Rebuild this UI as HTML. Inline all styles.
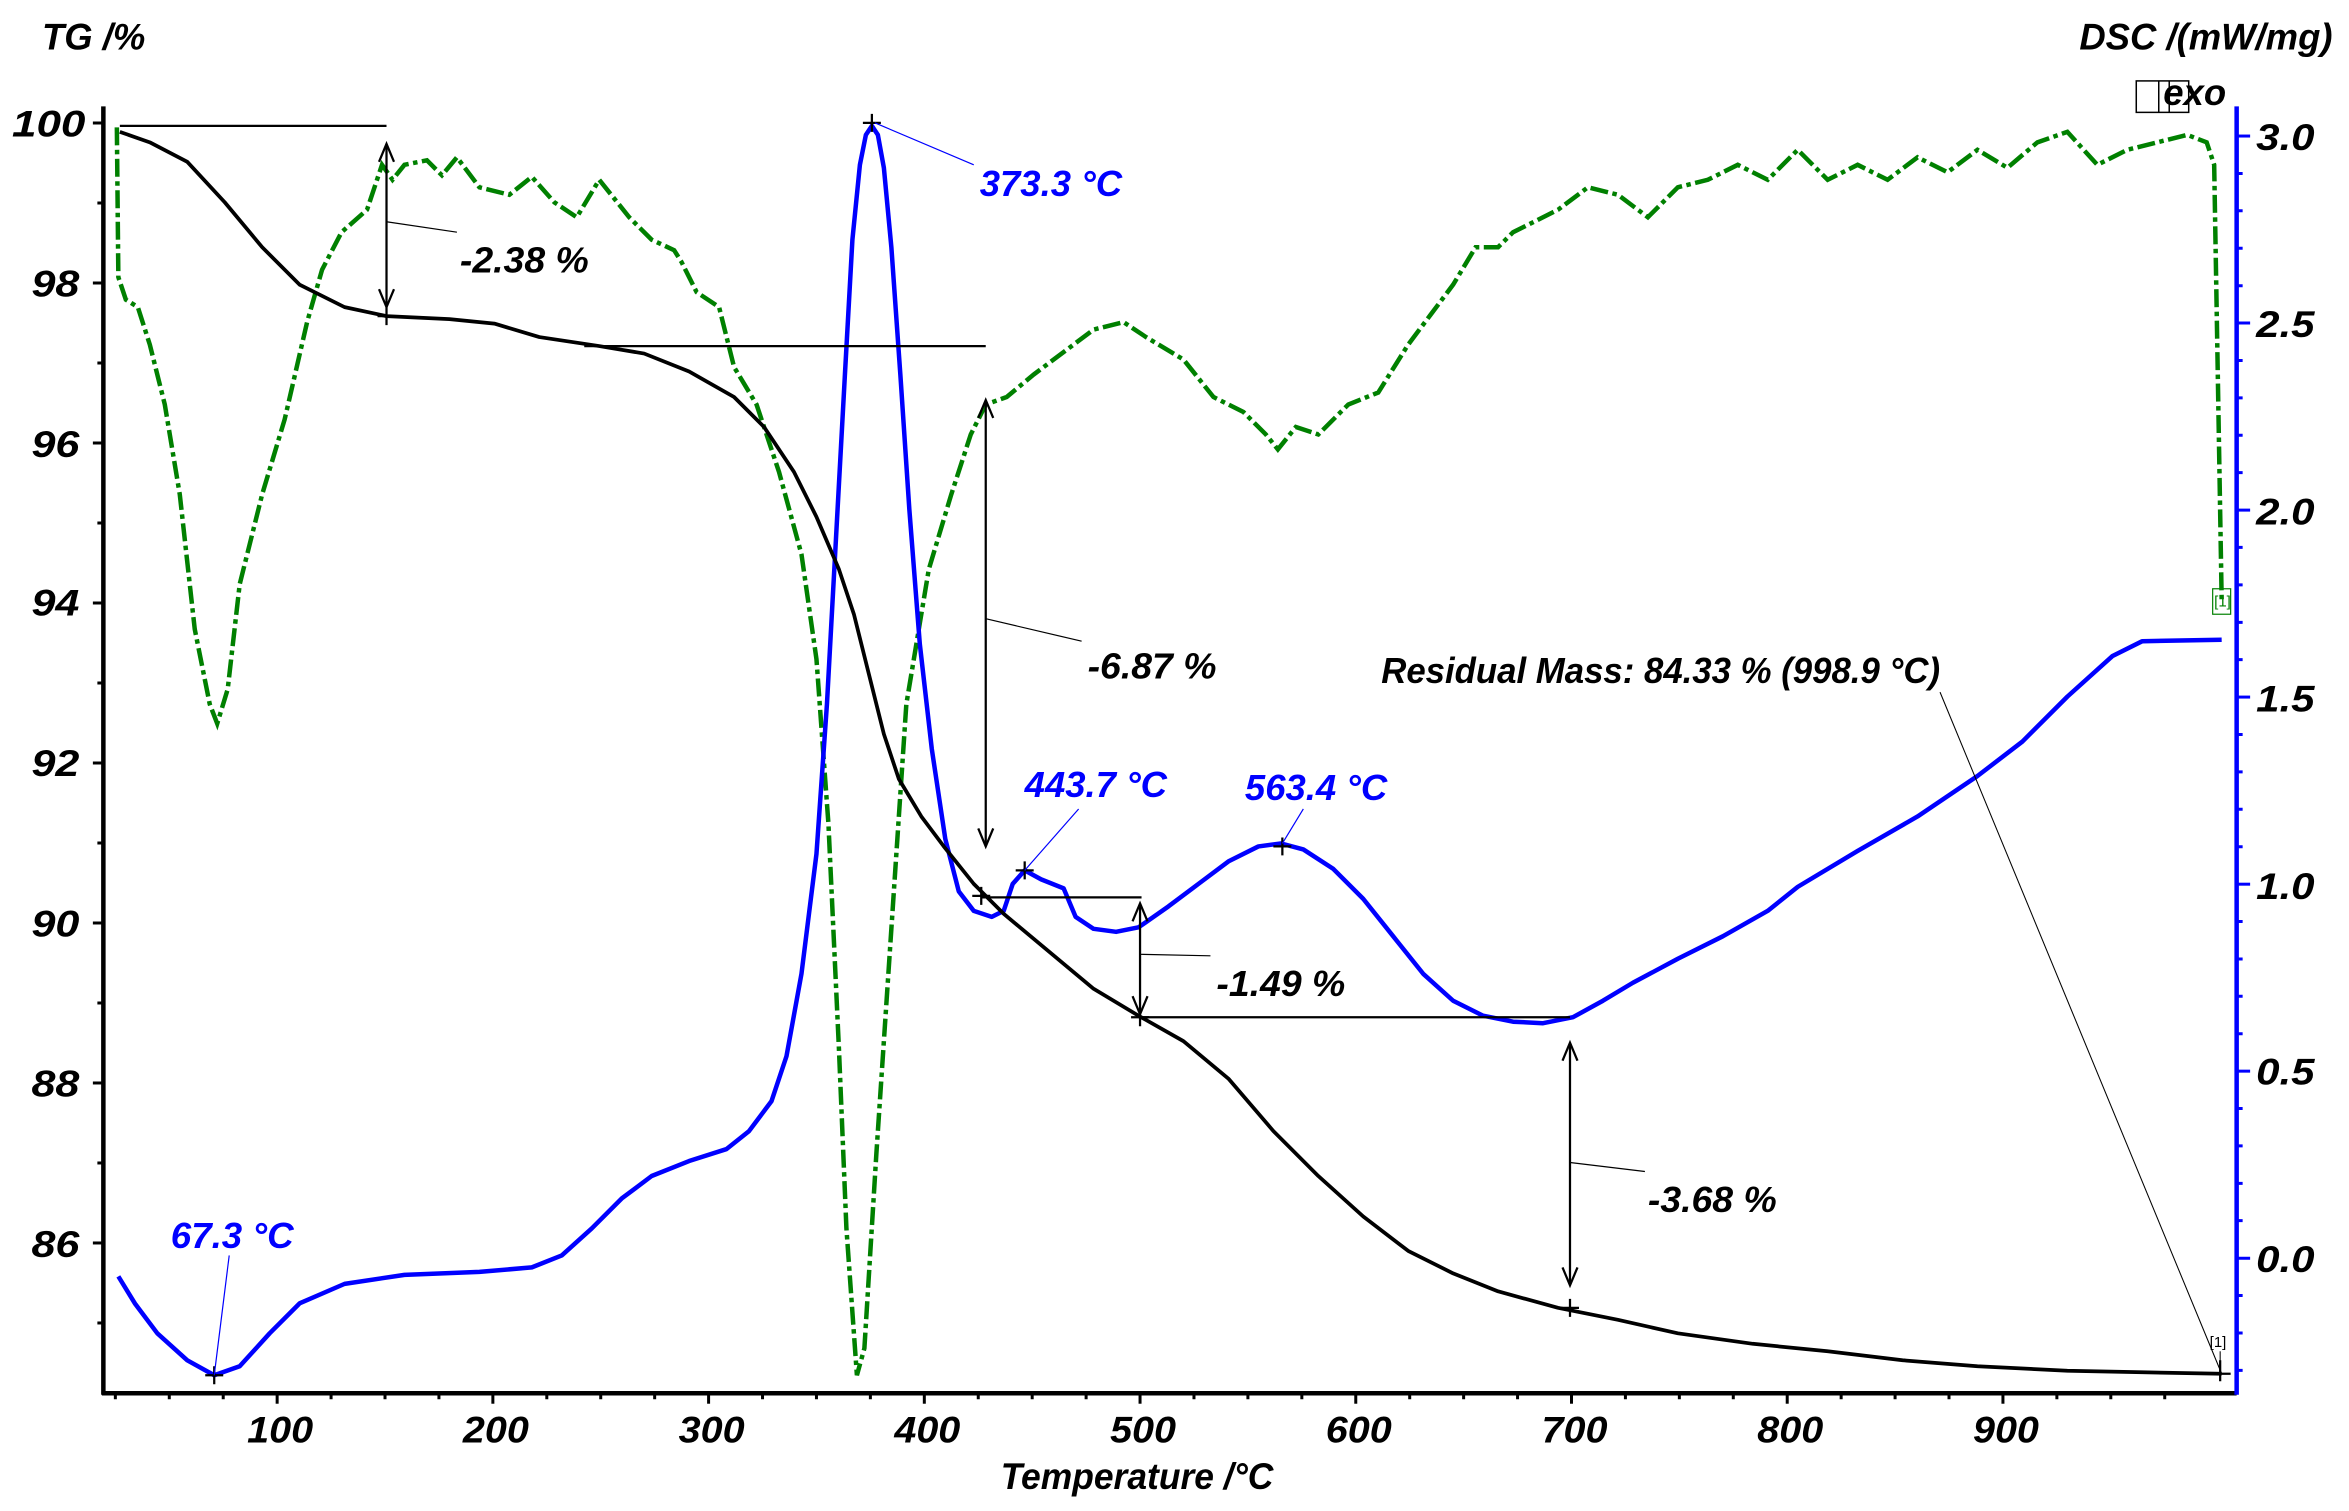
<!DOCTYPE html>
<html><head><meta charset="utf-8"><style>
html,body{margin:0;padding:0;background:#fff;}
svg{display:block;}
text{font-family:"Liberation Sans",sans-serif;font-style:italic;font-weight:bold;}
</style></head><body>
<svg width="2349" height="1511" viewBox="0 0 1568 1008.6" xmlns="http://www.w3.org/2000/svg">
<rect width="1568" height="1008.6" fill="#fff"/>
<line x1="69" y1="71" x2="69" y2="931" stroke="#000" stroke-width="3"/>
<line x1="68" y1="930" x2="1493" y2="930" stroke="#000" stroke-width="3"/>
<line x1="1493" y1="71" x2="1493" y2="931" stroke="#00f" stroke-width="3"/>
<g stroke="#000" stroke-width="2">
<line x1="62" y1="82.1" x2="69" y2="82.1"/><line x1="65" y1="135.5" x2="69" y2="135.5"/>
<line x1="62" y1="188.9" x2="69" y2="188.9"/><line x1="65" y1="242.3" x2="69" y2="242.3"/>
<line x1="62" y1="295.7" x2="69" y2="295.7"/><line x1="65" y1="349.1" x2="69" y2="349.1"/>
<line x1="62" y1="402.5" x2="69" y2="402.5"/><line x1="65" y1="455.9" x2="69" y2="455.9"/>
<line x1="62" y1="509.3" x2="69" y2="509.3"/><line x1="65" y1="562.7" x2="69" y2="562.7"/>
<line x1="62" y1="616.1" x2="69" y2="616.1"/><line x1="65" y1="669.5" x2="69" y2="669.5"/>
<line x1="62" y1="722.9" x2="69" y2="722.9"/><line x1="65" y1="776.3" x2="69" y2="776.3"/>
<line x1="62" y1="829.7" x2="69" y2="829.7"/><line x1="65" y1="883.1" x2="69" y2="883.1"/>
<line x1="185" y1="930" x2="185" y2="937"/><line x1="329" y1="930" x2="329" y2="937"/>
<line x1="473" y1="930" x2="473" y2="937"/><line x1="617" y1="930" x2="617" y2="937"/>
<line x1="761" y1="930" x2="761" y2="937"/><line x1="905" y1="930" x2="905" y2="937"/>
<line x1="1049" y1="930" x2="1049" y2="937"/><line x1="1193" y1="930" x2="1193" y2="937"/>
<line x1="1337" y1="930" x2="1337" y2="937"/>
<path d="M77 930v4M113 930v4M149 930v4M221 930v4M257 930v4M293 930v4M365 930v4M401 930v4M437 930v4M509 930v4M545 930v4M581 930v4M653 930v4M689 930v4M725 930v4M797 930v4M833 930v4M869 930v4M941 930v4M977 930v4M1013 930v4M1085 930v4M1121 930v4M1157 930v4M1229 930v4M1265 930v4M1301 930v4M1373 930v4M1409 930v4M1445 930v4"/>
</g>
<g stroke="#00f" stroke-width="2">
<line x1="1493" y1="90.8" x2="1502" y2="90.8"/><line x1="1493" y1="215.6" x2="1502" y2="215.6"/>
<line x1="1493" y1="340.5" x2="1502" y2="340.5"/><line x1="1493" y1="465.3" x2="1502" y2="465.3"/>
<line x1="1493" y1="590.2" x2="1502" y2="590.2"/><line x1="1493" y1="715" x2="1502" y2="715"/>
<line x1="1493" y1="839.9" x2="1502" y2="839.9"/>
<path d="M1493 115.8h4M1493 140.7h4M1493 165.7h4M1493 190.7h4M1493 240.6h4M1493 265.6h4M1493 290.5h4M1493 315.5h4M1493 365.4h4M1493 390.4h4M1493 415.4h4M1493 440.3h4M1493 490.3h4M1493 515.2h4M1493 540.2h4M1493 565.2h4M1493 615.1h4M1493 640.1h4M1493 665h4M1493 690h4M1493 739.9h4M1493 764.9h4M1493 789.9h4M1493 814.8h4M1493 864.8h4M1493 889.8h4M1493 914.7h4"/>
</g>
<g font-size="25" fill="#000">
<text x="8" y="91" textLength="49" lengthAdjust="spacingAndGlyphs">100</text>
<text x="21" y="198" textLength="32" lengthAdjust="spacingAndGlyphs">98</text>
<text x="21" y="305" textLength="32" lengthAdjust="spacingAndGlyphs">96</text>
<text x="21" y="411" textLength="32" lengthAdjust="spacingAndGlyphs">94</text>
<text x="21" y="518" textLength="32" lengthAdjust="spacingAndGlyphs">92</text>
<text x="21" y="625" textLength="32" lengthAdjust="spacingAndGlyphs">90</text>
<text x="21" y="732" textLength="32" lengthAdjust="spacingAndGlyphs">88</text>
<text x="21" y="839" textLength="32" lengthAdjust="spacingAndGlyphs">86</text>
<text x="165" y="963" textLength="44" lengthAdjust="spacingAndGlyphs">100</text>
<text x="309" y="963" textLength="44" lengthAdjust="spacingAndGlyphs">200</text>
<text x="453" y="963" textLength="44" lengthAdjust="spacingAndGlyphs">300</text>
<text x="597" y="963" textLength="44" lengthAdjust="spacingAndGlyphs">400</text>
<text x="741" y="963" textLength="44" lengthAdjust="spacingAndGlyphs">500</text>
<text x="885" y="963" textLength="44" lengthAdjust="spacingAndGlyphs">600</text>
<text x="1029" y="963" textLength="44" lengthAdjust="spacingAndGlyphs">700</text>
<text x="1173" y="963" textLength="44" lengthAdjust="spacingAndGlyphs">800</text>
<text x="1317" y="963" textLength="44" lengthAdjust="spacingAndGlyphs">900</text>
<text x="1506" y="100" textLength="39" lengthAdjust="spacingAndGlyphs">3.0</text>
<text x="1506" y="225" textLength="39" lengthAdjust="spacingAndGlyphs">2.5</text>
<text x="1506" y="350" textLength="39" lengthAdjust="spacingAndGlyphs">2.0</text>
<text x="1506" y="475" textLength="39" lengthAdjust="spacingAndGlyphs">1.5</text>
<text x="1506" y="600" textLength="39" lengthAdjust="spacingAndGlyphs">1.0</text>
<text x="1506" y="724" textLength="39" lengthAdjust="spacingAndGlyphs">0.5</text>
<text x="1506" y="849" textLength="39" lengthAdjust="spacingAndGlyphs">0.0</text>
<text x="668" y="994" textLength="182" lengthAdjust="spacingAndGlyphs">Temperature /°C</text>
<text x="28" y="33" textLength="69" lengthAdjust="spacingAndGlyphs">TG /%</text>
<text x="1388" y="33" textLength="169" lengthAdjust="spacingAndGlyphs">DSC /(mW/mg)</text>
<text x="1444" y="70" textLength="42" lengthAdjust="spacingAndGlyphs">exo</text>
</g>
<rect x="1426" y="54" width="35" height="21" fill="none" stroke="#000" stroke-width="1"/>
<line x1="1441" y1="54" x2="1441" y2="75" stroke="#000" stroke-width="1"/>
<line x1="1448" y1="54" x2="1448" y2="75" stroke="#000" stroke-width="1"/>

<polyline fill="none" stroke="#008000" stroke-width="3" stroke-dasharray="12 3 3 3" points="78,85 79,185 84,200 92,205 100,230 110,270 120,330 130,420 140,470 145,483 152,460 160,390 175,330 190,280 205,215 215,180 228,155 245,140 255,110 262,120 270,110 285,107 295,117 305,105 320,125 340,130 355,118 370,135 385,145 400,120 420,145 435,160 450,167 455,175 465,195 480,205 490,245 505,270 520,315 535,370 545,440 553,550 560,700 565,820 572,918 577,900 585,770 595,620 605,470 620,380 635,330 648,290 658,270 672,265 690,250 710,235 730,220 750,215 765,225 790,240 810,265 830,275 845,290 853,300 865,285 880,290 900,270 920,262 940,230 955,210 970,190 985,165 1000,165 1010,155 1040,140 1060,125 1080,130 1100,145 1120,125 1140,120 1160,110 1180,120 1200,100 1220,120 1240,110 1260,120 1280,105 1300,115 1320,100 1340,112 1360,95 1380,88 1400,110 1420,100 1440,95 1460,90 1473,95 1478,110 1483,400"/>

<polyline fill="none" stroke="#00f" stroke-width="3" stroke-linejoin="round" points="79,852 90,870 105,890 125,908 143,918 160,912 180,890 200,870 230,857 270,851 320,849 355,846 375,838 395,820 415,800 435,785 460,775 485,767 500,755 515,735 525,705 535,650 545,570 552,470 558,360 564,250 569,160 574,110 578,90 582,84 586,90 590,112 595,165 601,250 607,340 614,430 622,500 631,560 640,595 650,608 662,612 670,608 676,590 684,581 695,587 710,593 718,612 730,620 745,622 760,619 780,605 800,590 820,575 840,565 855,563 870,567 890,580 910,600 930,625 950,650 970,668 990,678 1010,682 1030,683 1050,679 1070,668 1090,656 1120,640 1150,625 1180,608 1200,592 1240,568 1280,545 1320,518 1350,495 1380,465 1410,438 1430,428 1483,427"/>

<polyline fill="none" stroke="#000" stroke-width="2.5" stroke-linejoin="round" points="80,88 100,95 125,108 150,135 175,165 200,190 230,205 258,211 300,213 330,216 360,225 400,231 430,236 460,248 490,265 510,285 530,315 545,345 560,380 570,410 580,450 590,490 600,520 615,545 630,565 650,590 670,610 700,635 730,660 760,678 790,695 820,720 850,755 880,785 910,812 940,835 970,850 1000,862 1040,873 1080,881 1120,890 1170,897 1220,902 1270,908 1320,912 1380,915 1430,916 1483,917"/>

<g stroke="#000" fill="none">
<line x1="80" y1="84" x2="258" y2="84" stroke-width="1.5"/>
<line x1="258" y1="97" x2="258" y2="204" stroke-width="1.5"/>
<path d="M253,108 L258,96 L263,108 M253,193 L258,205 L263,193" stroke-width="1.5"/>
<path d="M252,211h12M258,205v12" stroke-width="1.5"/>
<line x1="258" y1="148" x2="305" y2="155" stroke-width="0.8"/>
<line x1="390" y1="231" x2="658" y2="231" stroke-width="1.5"/>
<line x1="658" y1="268" x2="658" y2="564" stroke-width="1.5"/>
<path d="M653,279 L658,267 L663,279 M653,553 L658,565 L663,553" stroke-width="1.5"/>
<line x1="658" y1="413" x2="722" y2="428" stroke-width="0.8"/>
<line x1="655" y1="599" x2="762" y2="599" stroke-width="1.5"/>
<path d="M649,598h12M655,592v12" stroke-width="1.5"/>
<line x1="761" y1="604" x2="761" y2="676" stroke-width="1.5"/>
<path d="M756,615 L761,603 L766,615 M756,665 L761,677 L766,665" stroke-width="1.5"/>
<path d="M755,679h12M761,673v12" stroke-width="1.5"/>
<line x1="761" y1="637" x2="808" y2="638" stroke-width="0.8"/>
<line x1="760" y1="679" x2="1048" y2="679" stroke-width="1.5"/>
<line x1="1048" y1="697" x2="1048" y2="857" stroke-width="1.5"/>
<path d="M1043,708 L1048,696 L1053,708 M1043,846 L1048,858 L1053,846" stroke-width="1.5"/>
<path d="M1042,873h12M1048,867v12" stroke-width="1.5"/>
<line x1="1048" y1="776" x2="1098" y2="782" stroke-width="0.8"/>
<line x1="1295" y1="462" x2="1483" y2="917" stroke-width="0.7"/>
<path d="M1475,917h14M1482,908v14" stroke-width="1.5"/>
<line x1="1482" y1="902" x2="1482" y2="910" stroke-width="0.7"/>
<path d="M576,82h12M582,76v12" stroke-width="1.5"/>
<path d="M678,581h12M684,575v12" stroke-width="1.5"/>
<path d="M850,565h12M856,559v12" stroke-width="1.5"/>
<path d="M137,918h12M143,912v12" stroke-width="1.5"/>
</g>
<g stroke="#00f" stroke-width="0.8">
<line x1="584" y1="82" x2="650" y2="110"/>
<line x1="684" y1="581" x2="720" y2="540"/>
<line x1="856" y1="563" x2="870" y2="540"/>
<line x1="143" y1="918" x2="153" y2="838"/>
</g>
<rect x="1477" y="393" width="12" height="17" fill="none" stroke="#008000" stroke-width="0.8"/>
<text x="1478" y="405" font-size="10" style="font-style:normal;font-weight:normal" fill="#008000">[1]</text>
<text x="1475" y="899" font-size="10" style="font-style:normal;font-weight:normal" fill="#000">[1]</text>

<g font-size="24" fill="#000">
<text x="307" y="182" textLength="86" lengthAdjust="spacingAndGlyphs">-2.38 %</text>
<text x="726" y="453" textLength="86" lengthAdjust="spacingAndGlyphs">-6.87 %</text>
<text x="812" y="665" textLength="86" lengthAdjust="spacingAndGlyphs">-1.49 %</text>
<text x="1100" y="809" textLength="86" lengthAdjust="spacingAndGlyphs">-3.68 %</text>
<text x="922" y="456" textLength="373" lengthAdjust="spacingAndGlyphs">Residual Mass: 84.33 % (998.9 °C)</text>
</g>
<g font-size="24" fill="#00f">
<text x="654" y="131" textLength="95" lengthAdjust="spacingAndGlyphs">373.3 °C</text>
<text x="684" y="532" textLength="95" lengthAdjust="spacingAndGlyphs">443.7 °C</text>
<text x="831" y="534" textLength="95" lengthAdjust="spacingAndGlyphs">563.4 °C</text>
<text x="114" y="833" textLength="82" lengthAdjust="spacingAndGlyphs">67.3 °C</text>
</g>
</svg>
</body></html>
